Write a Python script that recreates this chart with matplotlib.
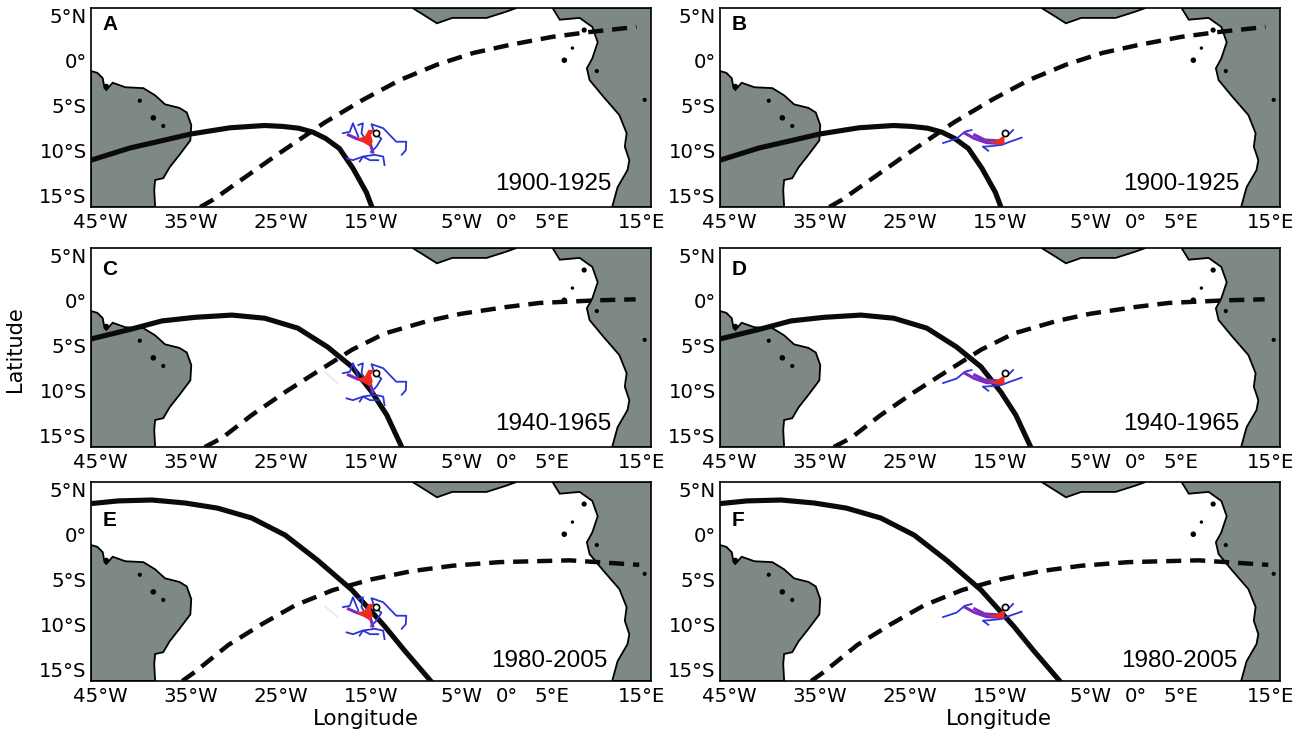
import matplotlib.pyplot as plt

W = 1300
H = 739

# map outlines
sa_lon = [-46, -45.3, -44.7, -44.5, -44.3, -43.6, -42.2, -40.2, -38.9, -37.8, -36.2, -35.4, -34.9, -35.0, -36.2, -37.3, -38.0, -38.9, -39.0, -38.9, -46]
sa_lat = [-1.2, -1.4, -2.0, -3.1, -3.3, -2.5, -3.0, -3.1, -3.9, -4.9, -5.3, -5.8, -7.2, -8.9, -10.5, -11.9, -13.1, -13.3, -14.4, -16.3, -16.3]
af_lon = [5.1, 5.9, 8.1, 9.5, 10.1, 9.5, 8.9, 9.2, 10.6, 12.2, 12.5, 13.3, 13.1, 13.6, 13.4, 12.3, 11.7, 16.2, 16.2]
af_lat = [5.8, 4.5, 4.7, 3.7, 2, 0.2, -0.9, -2.2, -3.9, -5.75, -6.1, -8.1, -9.6, -11.1, -12.2, -14.1, -16.3, -16.3, 5.8]
gu_lon = [-10.4, -8.8, -7.7, -6, -2.2, 0, 1.1]
gu_lat = [5.8, 4.8, 4.1, 4.7, 4.7, 5.4, 5.8]
isl_lon = [-40.6, -39.1, -38.0, 7.3, 6.4, 10.0, 15.3, 8.6, -44.3]
isl_lat = [-4.5, -6.4, -7.3, 1.35, 0.0, -1.2, -4.4, 3.35, -2.9]
isl_size = [9, 16, 9, 6, 16, 9, 9, 14, 14]

# isotherm position per period
solid_1900_lon = [-46, -41.7, -38, -35, -30.6, -26.8, -24.8, -23, -21.4, -20, -18.5, -17, -15.5, -14.9]
solid_1900_lat = [-11.1, -9.75, -8.9, -8.2, -7.5, -7.25, -7.35, -7.55, -8, -8.7, -9.8, -12.0, -14.7, -16.3]
dash_1900_lon = [-33.9, -32.5, -25.4, -20.1, -15.9, -11.8, -7.7, -3.7, 0.35, 5.1, 8.9, 14.4]
dash_1900_lat = [-16.3, -15.5, -10.5, -6.9, -4.4, -2.2, -0.5, 0.8, 1.7, 2.6, 3.1, 3.7]
solid_1940_lon = [-46, -41.9, -38.15, -34.5, -30.4, -26.75, -23.1, -19.8, -17.1, -14.9, -13.25, -11.6]
solid_1940_lat = [-4.3, -3.3, -2.3, -1.9, -1.65, -2, -3.1, -5.2, -7.4, -10.2, -12.75, -16.3]
dash_1940_lon = [-33.4, -31.5, -28.2, -24.5, -20.9, -17.1, -13.5, -8.7, -5, 0, 3.7, 10.3, 14.3]
dash_1940_lat = [-16.3, -15.3, -12.75, -10.2, -7.9, -5.5, -3.7, -2.3, -1.5, -0.75, -0.3, 0, 0.1]
solid_1980_lon = [-46, -43, -39.25, -35.6, -32, -28.2, -24.5, -20.9, -17.1, -13.5, -11.3, -8.3]
solid_1980_lat = [3.4, 3.7, 3.8, 3.47, 2.9, 1.8, -0.1, -2.9, -6.2, -10.2, -12.9, -16.4]
dash_1980_lon = [-35.9, -34.5, -30.8, -27.1, -23.4, -19.2, -14.9, -10.5, -6, -0.8, 7, 14.7]
dash_1980_lat = [-16.3, -15.3, -12.3, -10, -7.9, -6.2, -5, -4.1, -3.5, -3.1, -2.9, -3.4]

# release site
site_lon = -14.5
site_lat = -8.1

# drift traces, left column
left_traces = [
	([-14.6, -14.95, -13.65, -12.2, -11.1, -11.15, -11.6], [-8.1, -7.1, -7.55, -9.05, -9.05, -10, -10.5]),
	([-14.4, -13.85, -14.4, -15], [-8.3, -8.7, -9.6, -10.2]),
	([-17.7, -17, -15.9, -14.6, -13.65, -13.5], [-10.9, -11.1, -10.7, -10.5, -10.7, -11.65]),
	([-16.25, -15.9, -15.1, -14.2], [-11.25, -10.7, -11.1, -11.1]),
	([-18.1, -17.35, -17, -16.4], [-8.1, -7.95, -7, -8.5]),
	([-16.4, -15.9, -16.05, -15.5], [-7.2, -7, -8.1, -9]),
]
left_purple = ([-17.5, -16.6, -15.1, -14.8], [-8.3, -8.7, -9.2, -10.2])
left_red_lon = [-14.6, -15.3, -15.7, -16.6, -15.1, -14.8, -15]
left_red_lat = [-7.7, -7.75, -8.5, -8.7, -9.6, -9.05, -8.3]
faint_lon = [-20.1, -18.7]
faint_lat = [-8, -9.2]

# drift traces, right column
right_traces = [
	([-21.3, -19.8, -18.9, -18.15], [-9.2, -8.7, -7.95, -7.75]),
	([-12.6, -13.9, -14.8, -16.1, -16.9, -16.3], [-8.6, -9.05, -9.4, -9.55, -9.6, -10.05]),
	([-14.2, -13.55], [-8.4, -7.75]),
]
right_purple = ([-18.9, -17.8, -16.5, -14.8], [-8.1, -8.7, -9.15, -9.25])
right_purple2 = ([-17.8, -16.7, -15.2], [-8.3, -8.85, -8.95])
right_red_lon = [-14.5, -15.4, -16.5, -15.2, -14.5]
right_red_lat = [-8.3, -8.95, -9.05, -9.35, -9.25]

x_ticks = [-45, -35, -25, -15, -5, 0, 5, 15]
x_labels = ['45°W', '35°W', '25°W', '15°W', '5°W', '0°', '5°E', '15°E']
y_ticks = [5, 0, -5, -10, -15]
y_labels = ['5°N', '0°', '5°S', '10°S', '15°S']

land = '#7d8887'
blue = '#2a35d8'
purple = '#7a2bc0'
red = '#f02a1e'


def panel(fig, left, top, letter, letter_y, period, text_lon, text_lat, solid, dash, traces, purples, red_poly, faint=False):
	ax = fig.add_axes([left/W, 1 - (top + 199)/H, 560/W, 199/H])
	ax.set_xlim(-46, 16)
	ax.set_ylim(-16.3, 5.8)
	ax.fill(sa_lon, sa_lat, facecolor=land, edgecolor='black', lw=1.3)
	ax.fill(af_lon, af_lat, facecolor=land, edgecolor='black', lw=1.3)
	ax.fill(gu_lon, gu_lat, facecolor=land, edgecolor='black', lw=1.3)
	ax.scatter(isl_lon, isl_lat, s=isl_size, color='black', lw=0, zorder=3)

	ax.plot(solid[0], solid[1], color='#0a0a0a', lw=3.7, zorder=4, solid_joinstyle='round')
	ax.plot(dash[0], dash[1], color='#0a0a0a', lw=3.2, dashes=(3.4, 2.0), zorder=4)

	if faint:
		ax.plot(faint_lon, faint_lat, color='#e8e8f4', lw=1.2, zorder=3)
	for tx, ty in traces:
		ax.plot(tx, ty, color=blue, lw=1.3, zorder=5)
	for tx, ty in purples:
		ax.plot(tx, ty, color=purple, lw=2.2, zorder=5)
	ax.fill(red_poly[0], red_poly[1], color=red, lw=0, zorder=6)
	ax.plot(site_lon, site_lat, 'o', ms=4.5, mfc='white', mec='black', mew=1.2, zorder=7)

	ax.set_xticks(x_ticks)
	ax.set_xticklabels(x_labels)
	ax.set_yticks(y_ticks)
	ax.set_yticklabels(y_labels)
	ax.tick_params(length=0, labelsize=14.2, pad=3)
	ax.tick_params(axis='x', pad=4)
	for s in ax.spines.values():
		s.set_linewidth(1.2)

	ax.text(0.02, letter_y, letter, transform=ax.transAxes, fontsize=15, fontweight='bold',
		family='Liberation Sans', va='center', ha='left')
	ax.text(text_lon, text_lat, period, fontsize=17.5, family='Liberation Sans', va='center', ha='center', zorder=8)
	return ax


fig = plt.figure(figsize=(W/100, H/100), dpi=100)

left_plume = (left_traces, [left_purple], (left_red_lon, left_red_lat))
right_plume = (right_traces, [right_purple, right_purple2], (right_red_lon, right_red_lat))

panel(fig, 91, 8, 'A', 0.915, '1900-1925', 5.2, -13.76, (solid_1900_lon, solid_1900_lat), (dash_1900_lon, dash_1900_lat), *left_plume)
panel(fig, 720, 8, 'B', 0.915, '1900-1925', 5.1, -13.76, (solid_1900_lon, solid_1900_lat), (dash_1900_lon, dash_1900_lat), *right_plume)
panel(fig, 91, 248, 'C', 0.894, '1940-1965', 5.2, -13.76, (solid_1940_lon, solid_1940_lat), (dash_1940_lon, dash_1940_lat), *left_plume, faint=True)
panel(fig, 720, 248, 'D', 0.894, '1940-1965', 5.1, -13.76, (solid_1940_lon, solid_1940_lat), (dash_1940_lon, dash_1940_lat), *right_plume)
panel(fig, 91, 482, 'E', 0.809, '1980-2005', 4.7, -14.1, (solid_1980_lon, solid_1980_lat), (dash_1980_lon, dash_1980_lat), *left_plume, faint=True)
panel(fig, 720, 482, 'F', 0.809, '1980-2005', 4.8, -14.1, (solid_1980_lon, solid_1980_lat), (dash_1980_lon, dash_1980_lat), *right_plume)

fig.text(366/W, 1 - 719/H, 'Longitude', fontsize=15.4, ha='center', va='center')
fig.text(999/W, 1 - 719/H, 'Longitude', fontsize=15.4, ha='center', va='center')
fig.text(15/W, 1 - 349/H, 'Latitude', fontsize=15, rotation=90, ha='center', va='center')

fig.savefig('out.png', dpi=100)
